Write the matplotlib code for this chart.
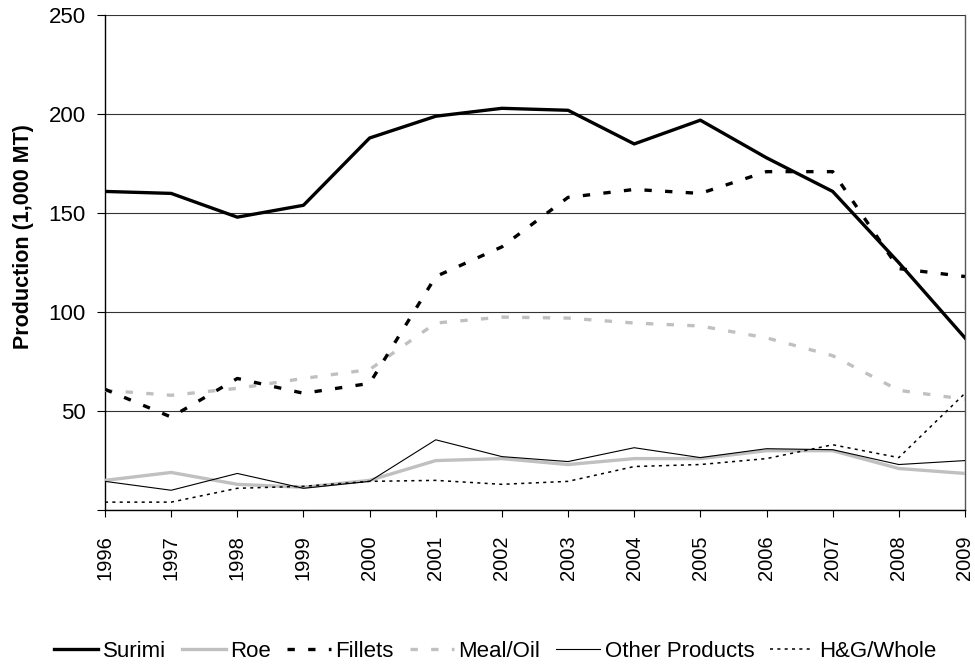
import numpy as np
import matplotlib.pyplot as plt

plt.rcParams['font.family'] = ['Liberation Sans', 'DejaVu Sans']

years = list(range(1996, 2010))
surimi = [161, 160, 148, 154, 188, 199, 203, 202, 185, 197, 178, 161, 125, 87]
roe = [15, 19, 13, 11.5, 15, 25, 26, 23, 26, 26, 30, 30, 21, 18.5]
fillets = [61, 47, 66.5, 59, 64, 118, 133, 158, 162, 160, 171, 171, 122, 118]
meal_oil = [60.5, 58, 61.5, 66.5, 71, 94.5, 97.5, 97, 94.5, 93, 87, 78, 60.5, 56]
other = [14.5, 10, 18.5, 11, 14.5, 35.5, 27, 24.5, 31.5, 26.5, 31, 30.5, 23, 25]
hg_whole = [4, 4, 11, 12, 14.5, 15, 13, 14.5, 22, 23, 26, 33, 26.5, 59]

fig = plt.figure(figsize=(9.75, 6.65), dpi=100)
ax = fig.add_axes([0.1077, 0.233, 0.882, 0.744])

ax.plot(years, surimi, color='black', lw=2.4, label='Surimi', zorder=6)
ax.plot(years, roe, color='#c0c0c0', lw=2.4, label='Roe', zorder=3)
ax.plot(years, fillets, color='black', lw=2.4, dashes=(2.2, 4.0), label='Fillets', zorder=5)
ax.plot(years, meal_oil, color='#c0c0c0', lw=2.4, dashes=(2.2, 4.0), label='Meal/Oil', zorder=4)
ax.plot(years, other, color='black', lw=0.8, label='Other Products', zorder=4)
ax.plot(years, hg_whole, color='black', lw=1.1, dashes=(2, 2.8), label='H&G/Whole', zorder=5)

ax.set_xlim(1996, 2009)
ax.set_ylim(0, 250)
ax.set_xticks(years)
ax.set_xticklabels([str(y) for y in years], rotation=90, fontsize=14.5)
ax.set_yticks([0, 50, 100, 150, 200, 250])
ax.set_yticklabels(['', '50', '100', '150', '200', '250'], fontsize=16)
ax.tick_params(axis='x', direction='out', length=5, width=0.8, pad=13)
ax.tick_params(axis='y', direction='out', length=6, width=0.8, pad=8)
ax.grid(axis='y', color='#333333', lw=0.8)
ax.set_axisbelow(True)
for s in ax.spines.values():
    s.set_linewidth(1.0)
ax.spines['right'].set_color('#555555')
ax.spines['top'].set_visible(False)
ax.set_ylabel('Production (1,000 MT)', fontsize=15.5, fontweight='bold')
ax.yaxis.set_label_coords(-0.0825, 0.553)

ax.legend(loc='center', bbox_to_anchor=(0.4535, -0.285), ncol=6, frameon=False, fontsize=16,
          handlelength=2.0, handletextpad=0.2, columnspacing=0.7)

plt.savefig('out.png', dpi=100)
